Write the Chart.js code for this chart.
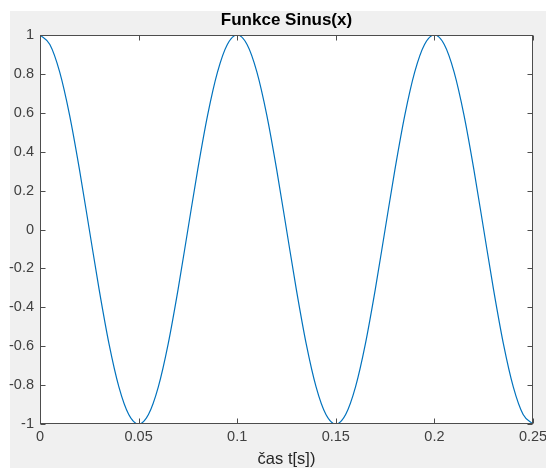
<!DOCTYPE html>
<html lang="cs">
<head>
    <meta charset="UTF-8">
    <title>Funkce Sinus(x)</title>
    <script src="https://cdn.jsdelivr.net/npm/chart.js"></script>
    <style>
        body { margin: 0; background: #fff; }
        canvas { display: block; }
    </style>
</head>
<body>
    <canvas id="sinChart" width="546" height="468"></canvas>

    <script>
        // hodnoty (krok 0.005 s)
        const casy = [
            0, 0.005, 0.01, 0.015, 0.02, 0.025, 0.03, 0.035, 0.04, 0.045,
            0.05, 0.055, 0.06, 0.065, 0.07, 0.075, 0.08, 0.085, 0.09, 0.095,
            0.1, 0.105, 0.11, 0.115, 0.12, 0.125, 0.13, 0.135, 0.14, 0.145,
            0.15, 0.155, 0.16, 0.165, 0.17, 0.175, 0.18, 0.185, 0.19, 0.195,
            0.2, 0.205, 0.21, 0.215, 0.22, 0.225, 0.23, 0.235, 0.24, 0.245,
            0.25
        ];
        const hodnoty = [
            1, 0.951, 0.809, 0.588, 0.309, 0, -0.309, -0.588, -0.809, -0.951,
            -1, -0.951, -0.809, -0.588, -0.309, 0, 0.309, 0.588, 0.809, 0.951,
            1, 0.951, 0.809, 0.588, 0.309, 0, -0.309, -0.588, -0.809, -0.951,
            -1, -0.951, -0.809, -0.588, -0.309, 0, 0.309, 0.588, 0.809, 0.951,
            1, 0.951, 0.809, 0.588, 0.309, 0, -0.309, -0.588, -0.809, -0.951,
            -1
        ];
        const xTicks = [0, 0.05, 0.1, 0.15, 0.2, 0.25];
        const yTicks = [-1, -0.8, -0.6, -0.4, -0.2, 0, 0.2, 0.4, 0.6, 0.8, 1];
        const nadpis = 'Funkce Sinus(x)';

        const body = casy.map((t, i) => ({ x: t, y: hodnoty[i] }));
        const fmt = v => String(Number(v.toFixed(3)));
        const pismo = 'Liberation Sans, Arial, sans-serif';

        // šedé pozadí figure + bílá plocha os
        const pozadi = {
            id: 'pozadi',
            beforeDraw(chart) {
                const { ctx, chartArea: a } = chart;
                ctx.save();
                ctx.fillStyle = '#f0f0f0';
                ctx.fillRect(10, 11, chart.width - 10, chart.height - 11);
                ctx.fillStyle = '#ffffff';
                ctx.fillRect(a.left, a.top, a.right - a.left, a.bottom - a.top);
                ctx.restore();
            }
        };

        // rámeček, ticky dovnitř a nadpis nad středem os jako v MATLABu
        const ramecek = {
            id: 'ramecek',
            afterDraw(chart) {
                const { ctx, chartArea: a, scales } = chart;
                const L = Math.round(a.left) + 0.5, R = Math.round(a.right) - 0.5;
                const T = Math.round(a.top) + 0.5, B = Math.round(a.bottom) - 0.5;
                ctx.save();
                ctx.strokeStyle = '#4d4d4d';
                ctx.lineWidth = 1;
                ctx.strokeRect(L, T, R - L, B - T);
                ctx.beginPath();
                xTicks.forEach(v => {
                    const px = Math.round(scales.x.getPixelForValue(v)) + 0.5;
                    ctx.moveTo(px, B); ctx.lineTo(px, B - 5);
                    ctx.moveTo(px, T); ctx.lineTo(px, T + 5);
                });
                yTicks.forEach(v => {
                    const py = Math.round(scales.y.getPixelForValue(v)) + 0.5;
                    ctx.moveTo(L, py); ctx.lineTo(L + 5, py);
                    ctx.moveTo(R, py); ctx.lineTo(R - 5, py);
                });
                ctx.stroke();

                ctx.fillStyle = '#000';
                ctx.font = 'bold 17px ' + pismo;
                ctx.textAlign = 'center';
                ctx.textBaseline = 'middle';
                ctx.fillText(nadpis, (a.left + a.right) / 2, 20);
                ctx.restore();
            }
        };

        new Chart(document.getElementById('sinChart'), {
            type: 'line',
            data: {
                datasets: [{
                    data: body,
                    borderColor: '#0072bd',
                    borderWidth: 1.2,
                    pointRadius: 0,
                    cubicInterpolationMode: 'monotone',
                    fill: false
                }]
            },
            options: {
                responsive: false,
                animation: false,
                devicePixelRatio: 1,
                layout: { padding: { left: 0, right: 13, top: 35, bottom: 0 } },
                plugins: {
                    legend: { display: false },
                    tooltip: { enabled: false },
                    title: { display: false }
                },
                scales: {
                    x: {
                        type: 'linear',
                        min: 0,
                        max: 0.25,
                        afterFit: s => { s.height = 44; s.paddingLeft = 0; s.paddingRight = 0; },
                        afterBuildTicks: s => { s.ticks = xTicks.map(v => ({ value: v })); },
                        grid: { display: false, drawTicks: false },
                        border: { display: false },
                        ticks: {
                            padding: 4,
                            maxRotation: 0,
                            autoSkip: false,
                            color: '#404040',
                            font: { family: pismo, size: 14.5 },
                            callback: v => fmt(v)
                        },
                        title: {
                            display: true,
                            text: 'čas t[s])',
                            color: '#262626',
                            font: { family: pismo, size: 16.5, lineHeight: 1 },
                            padding: { top: 0, bottom: 0 }
                        }
                    },
                    y: {
                        min: -1,
                        max: 1,
                        afterFit: s => { s.width = 40; s.paddingTop = 0; s.paddingBottom = 0; },
                        afterBuildTicks: s => { s.ticks = yTicks.map(v => ({ value: v })); },
                        grid: { display: false, drawTicks: false },
                        border: { display: false },
                        ticks: {
                            padding: 6,
                            autoSkip: false,
                            color: '#404040',
                            font: { family: pismo, size: 14.5 },
                            callback: v => fmt(v)
                        }
                    }
                }
            },
            plugins: [pozadi, ramecek]
        });
    </script>
</body>
</html>
